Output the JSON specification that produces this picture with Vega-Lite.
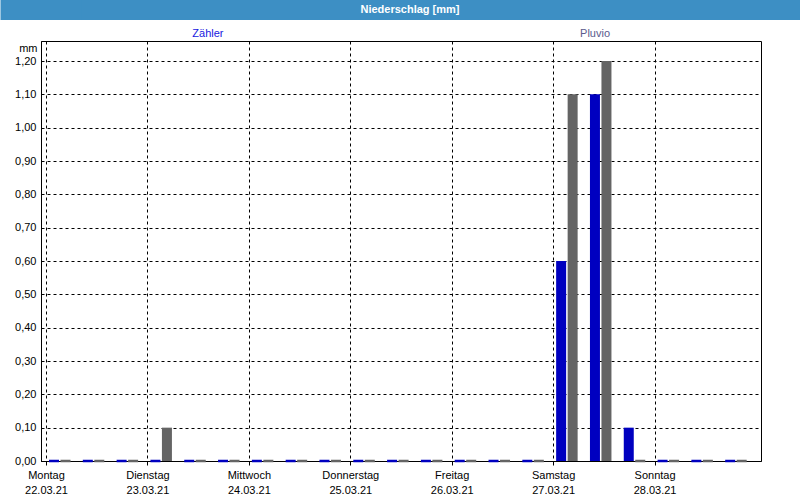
{
  "$schema": "https://vega.github.io/schema/vega-lite/v6.json",
  "padding": 0,
  "background": "white",
  "spacing": 6,
  "config": {"font": "Liberation Sans", "view": {"stroke": null}},
  "vconcat": [
    {
      "width": 760,
      "height": 20,
      "view": {"fill": "#3d8fc4", "stroke": null},
      "data": {"values": [{"title": "Niederschlag [mm]"}]},
      "mark": {"type": "text", "color": "white", "fontWeight": "bold", "fontSize": 11, "dx": -11, "font": "Liberation Sans"},
      "encoding": {
        "text": {"field": "title"},
        "y": {
          "field": "title", "type": "nominal",
          "axis": {"title": null, "labels": false, "ticks": false, "grid": false, "domain": true, "domainColor": "#3d8fc4", "domainWidth": 81, "translate": 0, "minExtent": 0}
        }
      }
    },
    {
      "width": 720,
      "height": 420,
      "view": {"stroke": "black", "strokeWidth": 1, "fill": "white"},
      "layer": [
        {
          "data": {"values": [
            {"t": "2021-03-22T00:00:00Z", "series": "Zähler", "value": 0}, {"t": "2021-03-22T00:00:00Z", "series": "Pluvio", "value": 0},
            {"t": "2021-03-22T08:00:00Z", "series": "Zähler", "value": 0}, {"t": "2021-03-22T08:00:00Z", "series": "Pluvio", "value": 0},
            {"t": "2021-03-22T16:00:00Z", "series": "Zähler", "value": 0}, {"t": "2021-03-22T16:00:00Z", "series": "Pluvio", "value": 0},
            {"t": "2021-03-23T00:00:00Z", "series": "Zähler", "value": 0}, {"t": "2021-03-23T00:00:00Z", "series": "Pluvio", "value": 0.1},
            {"t": "2021-03-23T08:00:00Z", "series": "Zähler", "value": 0}, {"t": "2021-03-23T08:00:00Z", "series": "Pluvio", "value": 0},
            {"t": "2021-03-23T16:00:00Z", "series": "Zähler", "value": 0}, {"t": "2021-03-23T16:00:00Z", "series": "Pluvio", "value": 0},
            {"t": "2021-03-24T00:00:00Z", "series": "Zähler", "value": 0}, {"t": "2021-03-24T00:00:00Z", "series": "Pluvio", "value": 0},
            {"t": "2021-03-24T08:00:00Z", "series": "Zähler", "value": 0}, {"t": "2021-03-24T08:00:00Z", "series": "Pluvio", "value": 0},
            {"t": "2021-03-24T16:00:00Z", "series": "Zähler", "value": 0}, {"t": "2021-03-24T16:00:00Z", "series": "Pluvio", "value": 0},
            {"t": "2021-03-25T00:00:00Z", "series": "Zähler", "value": 0}, {"t": "2021-03-25T00:00:00Z", "series": "Pluvio", "value": 0},
            {"t": "2021-03-25T08:00:00Z", "series": "Zähler", "value": 0}, {"t": "2021-03-25T08:00:00Z", "series": "Pluvio", "value": 0},
            {"t": "2021-03-25T16:00:00Z", "series": "Zähler", "value": 0}, {"t": "2021-03-25T16:00:00Z", "series": "Pluvio", "value": 0},
            {"t": "2021-03-26T00:00:00Z", "series": "Zähler", "value": 0}, {"t": "2021-03-26T00:00:00Z", "series": "Pluvio", "value": 0},
            {"t": "2021-03-26T08:00:00Z", "series": "Zähler", "value": 0}, {"t": "2021-03-26T08:00:00Z", "series": "Pluvio", "value": 0},
            {"t": "2021-03-26T16:00:00Z", "series": "Zähler", "value": 0}, {"t": "2021-03-26T16:00:00Z", "series": "Pluvio", "value": 0},
            {"t": "2021-03-27T00:00:00Z", "series": "Zähler", "value": 0.6}, {"t": "2021-03-27T00:00:00Z", "series": "Pluvio", "value": 1.1},
            {"t": "2021-03-27T08:00:00Z", "series": "Zähler", "value": 1.1}, {"t": "2021-03-27T08:00:00Z", "series": "Pluvio", "value": 1.2},
            {"t": "2021-03-27T16:00:00Z", "series": "Zähler", "value": 0.1}, {"t": "2021-03-27T16:00:00Z", "series": "Pluvio", "value": 0},
            {"t": "2021-03-28T00:00:00Z", "series": "Zähler", "value": 0}, {"t": "2021-03-28T00:00:00Z", "series": "Pluvio", "value": 0},
            {"t": "2021-03-28T08:00:00Z", "series": "Zähler", "value": 0}, {"t": "2021-03-28T08:00:00Z", "series": "Pluvio", "value": 0},
            {"t": "2021-03-28T16:00:00Z", "series": "Zähler", "value": 0}, {"t": "2021-03-28T16:00:00Z", "series": "Pluvio", "value": 0}
          ]},
          "encoding": {
            "x": {
              "field": "t", "type": "temporal",
              "scale": {"type": "utc", "domain": [{"year": 2021, "month": 3, "date": 22, "utc": true}, {"year": 2021, "month": 3, "date": 29, "utc": true}]},
              "axis": {
                "title": null,
                "values": [
                  {"year": 2021, "month": 3, "date": 22, "utc": true},
                  {"year": 2021, "month": 3, "date": 23, "utc": true},
                  {"year": 2021, "month": 3, "date": 24, "utc": true},
                  {"year": 2021, "month": 3, "date": 25, "utc": true},
                  {"year": 2021, "month": 3, "date": 26, "utc": true},
                  {"year": 2021, "month": 3, "date": 27, "utc": true},
                  {"year": 2021, "month": 3, "date": 28, "utc": true}
                ],
                "labelExpr": "[['Sonntag','Montag','Dienstag','Mittwoch','Donnerstag','Freitag','Samstag'][utcday(datum.value)], utcFormat(datum.value, '%d.%m.%y')]",
                "grid": true, "gridColor": "black", "gridDash": [3, 3], "gridWidth": 1, "gridOpacity": 1,
                "domainColor": "black", "tickColor": "black", "tickSize": 4,
                "labelColor": "black", "labelFontSize": 11, "labelPadding": 4, "labelLineHeight": 15,
                "labelFlush": false, "labelOverlap": false, "labelBound": false, "labelFont": "Liberation Sans"
              }
            },
            "y": {
              "field": "value", "type": "quantitative",
              "scale": {"domain": [0, 1.26], "nice": false},
              "axis": {
                "values": [0, 0.1, 0.2, 0.3, 0.4, 0.5, 0.6, 0.7, 0.8, 0.9, 1.0, 1.1, 1.2],
                "labelExpr": "replace(format(datum.value, '.2f'), '.', ',')",
                "title": "mm", "titleAngle": 0, "titleX": -4, "titleY": 7, "titleAlign": "right", "titleBaseline": "middle",
                "titleFontWeight": "normal", "titleFontSize": 11, "titleColor": "black", "titleFont": "Liberation Sans",
                "ticks": false, "labelPadding": 5, "labelColor": "black", "labelFontSize": 11, "labelFont": "Liberation Sans",
                "grid": true, "gridColor": "black", "gridDash": [3, 3], "gridWidth": 1, "gridOpacity": 1,
                "domainColor": "black", "minExtent": 40
              }
            },
            "strokeWidth": {"condition": {"test": "datum.value == 0", "value": 2.5}, "value": 0}
          },
          "layer": [
            {
              "transform": [{"filter": "datum.series == 'Zähler'"}],
              "mark": {"type": "bar", "width": 10, "xOffset": 8, "fill": "#0000c0", "stroke": "#0000c0"}
            },
            {
              "transform": [{"filter": "datum.series == 'Pluvio'"}],
              "mark": {"type": "bar", "width": 10, "xOffset": 19.5, "fill": "#646464", "stroke": "#646464"}
            }
          ]
        },
        {
          "data": {"values": [{"series": "Zähler"}, {"series": "Pluvio"}]},
          "mark": {"type": "point", "opacity": 0},
          "encoding": {
            "x": {
              "field": "series", "type": "nominal",
              "scale": {"type": "point", "domain": ["Zähler", "Pluvio"], "padding": 0.43},
              "axis": {
                "orient": "top", "title": null, "domain": false, "ticks": false, "grid": false,
                "labelAngle": 0, "labelPadding": 3, "labelFontSize": 11, "labelFont": "Liberation Sans",
                "labelColor": {"condition": {"test": "datum.value == 'Zähler'", "value": "#2020e0"}, "value": "#5a5a8c"}
              }
            }
          }
        }
      ],
      "resolve": {"scale": {"x": "independent"}, "axis": {"x": "independent"}}
    }
  ]
}
